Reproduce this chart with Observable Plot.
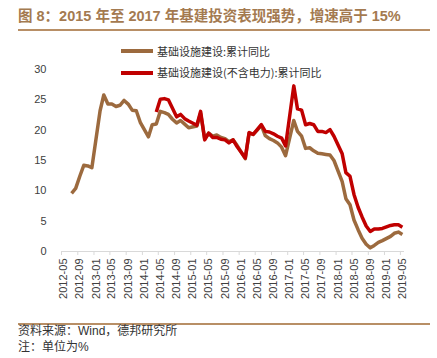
<!DOCTYPE html>
<html>
<head>
<meta charset="utf-8">
<script src="https://cdn.jsdelivr.net/npm/d3@7"></script>
<script src="https://cdn.jsdelivr.net/npm/@observablehq/plot@0.6"></script>
<style>
  body { margin: 0; background: #fff; }
  #wrap { position: relative; width: 437px; height: 358px; overflow: hidden; background: #fff;
          font-family: "Liberation Sans", "Noto Sans CJK SC", sans-serif; }
  .abs { position: absolute; white-space: nowrap; }
  #chart { position: absolute; left: 0; top: 0; }
</style>
</head>
<body>
<div id="wrap">
  <div id="chart"></div>
  <div class="abs" id="title" style="left:18px;top:6px;font-weight:bold;font-size:14.5px;line-height:20px;color:#a47a50;">图 8：2015 年至 2017 年基建投资表现强势，增速高于 15%</div>
  <div class="abs" style="left:18px;top:29px;width:412px;height:2px;background:#b88f66;"></div>
  <div id="legend"></div>
  <div class="abs" style="left:18px;top:323px;width:412px;height:2px;background:#b88f66;"></div>
  <div class="abs" id="src" style="left:18px;top:324px;font-size:12px;line-height:15px;color:#333;">资料来源：Wind，德邦研究所</div>
  <div class="abs" id="note" style="left:18px;top:340px;font-size:12px;line-height:15px;color:#333;">注：单位为%</div>
</div>
<script>
// ---- data ----
const seriesNames = ["基础设施建设:累计同比", "基础设施建设(不含电力):累计同比"];
const seriesColors = ["#9c6a3e", "#c00000"];

const infraMonths = ["2012-07","2012-08","2012-09","2012-10","2012-11","2012-12",
  "2013-02","2013-03","2013-04","2013-05","2013-06","2013-07","2013-08","2013-09","2013-10","2013-11","2013-12",
  "2014-02","2014-03","2014-04","2014-05","2014-06","2014-07","2014-08","2014-09","2014-10","2014-11","2014-12",
  "2015-02","2015-03","2015-04","2015-05","2015-06","2015-07","2015-08","2015-09","2015-10","2015-11","2015-12",
  "2016-02","2016-03","2016-04","2016-05","2016-06","2016-07","2016-08","2016-09","2016-10","2016-11","2016-12",
  "2017-02","2017-03","2017-04","2017-05","2017-06","2017-07","2017-08","2017-09","2017-10","2017-11","2017-12",
  "2018-02","2018-03","2018-04","2018-05","2018-06","2018-07","2018-08","2018-09","2018-10","2018-11","2018-12",
  "2019-02","2019-03","2019-04","2019-05"];
const infraValues = [9.6,10.4,12.4,14.2,14.1,13.8,
  23.2,25.8,24.3,24.3,23.9,24.1,24.9,24.3,23.3,23.2,21.3,
  18.9,20.9,21.0,23.1,22.9,22.6,21.8,21.2,21.6,21.0,20.4,
  20.7,22.8,18.6,19.5,19.0,19.2,18.8,18.6,18.1,18.4,17.5,
  15.3,19.5,19.3,20.0,20.8,19.1,18.6,18.3,17.9,17.2,15.8,
  21.6,19.8,19.0,17.0,17.1,16.6,16.2,16.1,16.0,15.9,15.0,
  11.5,8.7,7.7,5.2,3.6,2.2,1.2,0.6,1.0,1.5,1.8,
  2.5,3.0,3.2,2.8];

const exPowerMonths = ["2014-04","2014-05","2014-06","2014-07","2014-08","2014-09","2014-10","2014-11","2014-12",
  "2015-02","2015-03","2015-04","2015-05","2015-06","2015-07","2015-08","2015-09","2015-10","2015-11","2015-12",
  "2016-02","2016-03","2016-04","2016-05","2016-06","2016-07","2016-08","2016-09","2016-10","2016-11","2016-12",
  "2017-02","2017-03","2017-04","2017-05","2017-06","2017-07","2017-08","2017-09","2017-10","2017-11","2017-12",
  "2018-02","2018-03","2018-04","2018-05","2018-06","2018-07","2018-08","2018-09","2018-10","2018-11","2018-12",
  "2019-02","2019-03","2019-04","2019-05"];
const exPowerValues = [23.0,25.1,25.2,25.0,23.6,22.2,22.6,21.9,21.5,
  20.8,23.1,18.4,19.5,18.8,18.8,18.5,18.4,17.9,18.4,17.3,
  15.4,19.6,19.3,20.1,20.9,19.8,19.7,19.4,19.0,18.7,17.4,
  27.3,23.5,23.3,20.9,21.1,20.9,19.8,19.8,19.6,20.1,19.0,
  16.1,13.0,12.4,9.4,7.3,5.7,4.2,3.3,3.7,3.7,3.8,
  4.3,4.4,4.4,4.0];

const xTickLabels = ["2012-05","2012-09","2013-01","2013-05","2013-09","2014-01","2014-05","2014-09",
  "2015-01","2015-05","2015-09","2016-01","2016-05","2016-09","2017-01","2017-05","2017-09",
  "2018-01","2018-05","2018-09","2019-01","2019-05"];
const yTicks = [0, 5, 10, 15, 20, 25, 30];

// ---- build ----
const monthStart = s => { const [y, m] = s.split("-").map(Number); return new Date(Date.UTC(y, m - 1, 1)); };
const monthMid = s => { const [y, m] = s.split("-").map(Number); return new Date(Date.UTC(y, m - 1, 16)); };

const infra = infraMonths.map((m, i) => ({date: monthMid(m), value: infraValues[i]}));
const exPower = exPowerMonths.map((m, i) => ({date: monthMid(m), value: exPowerValues[i]}));

const tickDates = xTickLabels.map(monthStart);
const labelDates = xTickLabels.map(monthMid);

const chart = Plot.plot({
  width: 437,
  height: 310,
  marginTop: 69,
  marginBottom: 59,
  marginLeft: 61,
  marginRight: 33,
  style: {fontFamily: "'Liberation Sans', Arial, sans-serif", fontSize: "11px", color: "#404040", background: "transparent"},
  x: {type: "utc", domain: [monthStart("2012-05"), monthStart("2019-06")], axis: null},
  y: {domain: [0, 30], axis: null},
  marks: [
    Plot.axisY(yTicks, {tickSize: 0, tickPadding: 15, fontSize: 11, label: null}),
    Plot.ruleY([0], {stroke: "#d9d9d9", strokeWidth: 1}),
    Plot.axisX(tickDates, {tickSize: 4, tickFormat: () => "", stroke: "#d9d9d9", label: null}),
    Plot.axisX(labelDates, {tickSize: 0, tickPadding: 7, tickRotate: -90, fontSize: 11,
      tickFormat: d3.utcFormat("%Y-%m"), label: null}),
    Plot.line(infra, {x: "date", y: "value", stroke: seriesColors[0], strokeWidth: 3.5,
      strokeLinejoin: "round", strokeLinecap: "butt"}),
    Plot.line(exPower, {x: "date", y: "value", stroke: seriesColors[1], strokeWidth: 3.5,
      strokeLinejoin: "round", strokeLinecap: "butt"})
  ]
});
document.getElementById("chart").appendChild(chart);

// legend
const legend = document.getElementById("legend");
const legendTops = [51, 72.5];
seriesNames.forEach((name, i) => {
  const sw = document.createElement("div");
  sw.className = "abs";
  sw.style.cssText = `left:121px;top:${legendTops[i] - 2}px;width:32px;height:4px;background:${seriesColors[i]};`;
  legend.appendChild(sw);
  const t = document.createElement("div");
  t.className = "abs";
  t.textContent = name;
  t.style.cssText = `left:157px;top:${legendTops[i] - 7.5}px;font-family:'Noto Sans CJK SC',sans-serif;font-size:11px;line-height:15px;color:#333;`;
  legend.appendChild(t);
});
</script>
</body>
</html>
